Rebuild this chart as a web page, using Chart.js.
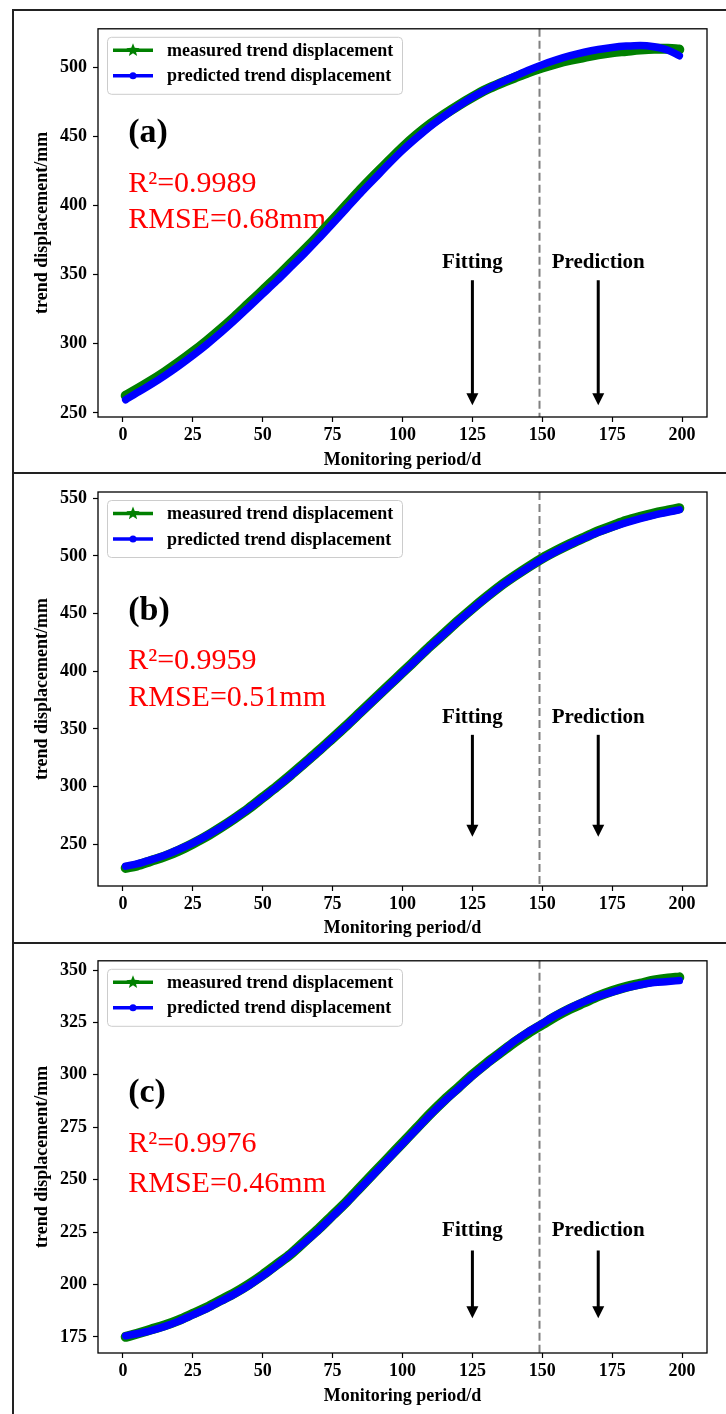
<!DOCTYPE html>
<html>
<head>
<meta charset="utf-8">
<script src="https://cdn.jsdelivr.net/npm/chart.js@4.4.1/dist/chart.umd.min.js"></script>
<style>
html,body{margin:0;padding:0;background:#fff;}
#wrap{position:relative;width:726px;height:1414px;overflow:hidden;background:#fff;}
canvas{position:absolute;left:0;}
.hl{position:absolute;left:12px;width:714px;height:2px;background:#222;}
.vl{position:absolute;left:12px;top:9px;width:2px;height:1405px;background:#222;}
</style>
</head>
<body>
<div id="wrap">
<canvas id="ca" width="726" height="460" style="top:12px"></canvas>
<canvas id="cb" width="726" height="468" style="top:474px"></canvas>
<canvas id="cc" width="726" height="470" style="top:944px"></canvas>
<div class="hl" style="top:9px"></div>
<div class="hl" style="top:472px"></div>
<div class="hl" style="top:942px"></div>
<div class="vl"></div>
</div>
<script>
// ---------- data ----------
const days = [1,5,10,15,20,25,30,35,40,45,50,55,60,65,70,75,80,85,90,95,100,105,110,115,120,125,130,135,140,145,150,155,160,165,170,175,180,185,190,195,199];

const measuredA = [262.5,267,273,279.5,286.5,294,302,310.5,319.5,329,338.5,348,358,368,378.5,389.5,400.5,411.5,422,432,442,451,459,466,472.5,478.5,484,488.5,492.5,496.5,500,503,505.5,507.5,509.5,511,512,513,513.5,513.5,513];
const predictedA = [259.5,264.5,270.5,277,284,291.5,299.5,308,317,326.5,336,345.5,355.5,365.5,376,387,398,409,419.5,430,440,449,457.5,465,472,478.5,484,489,493.5,498,502,505.5,508.5,511,513,514.5,515.5,516,515,512.5,508.5];

const measuredB = [229.5,231.5,235.5,239.5,244.5,250.5,257,264.5,272.5,281,290.5,300,310,320.5,331,342,353,364.5,376,387.5,399,410.5,422,433,444,454.5,464.5,474,482.5,490.5,498,504.5,510.5,516,521.5,526,530.5,534,537,539.5,541.5];
const predictedB = [231,233,236.5,240.5,245.5,251,257.5,264.5,272.5,281,290,299.5,309.5,320,330.5,341.5,352.5,364,375.5,387,398.5,410,421.5,432.5,443.5,454,464,473.5,482,490,497.5,504,510,515.5,520.5,525,529,532.5,535.5,538,540];

const measuredC = [175,176.5,178.5,180.5,183,186,189,192.5,196,200,204.5,209.5,214.5,220.5,226.5,233,239.5,246.5,253.5,260.5,267.5,274.5,281.5,288,294,300,305.5,310.5,315.5,320,324,328,331.5,334.5,337.5,340,342,343.5,345,346,346.5];
const predictedC = [175.5,176.5,178,180,182.5,185.5,188.5,192,195.5,199.5,204,209,214.5,220,226,232.5,239,246,253,260,267,274,281,287.5,293.5,299.5,305,310.5,316,320.5,324.5,328.5,332,335,337.5,339.5,341.5,343,344,344.5,345];

const seriesLabels = ['measured trend displacement','predicted trend displacement'];
const panelLabels = ['(a)','(b)','(c)'];
const r2Labels = ['R\u00B2=0.9989','R\u00B2=0.9959','R\u00B2=0.9976'];
const rmseLabels = ['RMSE=0.68mm','RMSE=0.51mm','RMSE=0.46mm'];
const splitDay = 149;
const fitDay = 125;
const predDay = 170;
const xTitle = 'Monitoring period/d';
const yTitle = 'trend displacement/mm';

// ---------- rendering ----------
const SERIF = "'Liberation Serif','Times New Roman',serif";
const GREEN = '#008000', BLUE = '#0000ff';

function star(ctx, cx, cy, R, r) {
  ctx.beginPath();
  for (let i = 0; i < 10; i++) {
    const rad = i % 2 === 0 ? R : r;
    const a = -Math.PI / 2 + i * Math.PI / 5;
    const px = cx + rad * Math.cos(a), py = cy + rad * Math.sin(a);
    if (i === 0) ctx.moveTo(px, py); else ctx.lineTo(px, py);
  }
  ctx.closePath();
  ctx.fill();
}

function arrow(ctx, x, y1, y2) {
  const head = 12, hw = 6;
  ctx.strokeStyle = '#000'; ctx.fillStyle = '#000'; ctx.lineWidth = 3;
  ctx.beginPath(); ctx.moveTo(x, y1); ctx.lineTo(x, y2 - head + 2); ctx.stroke();
  ctx.beginPath(); ctx.moveTo(x, y2); ctx.lineTo(x - hw, y2 - head); ctx.lineTo(x + hw, y2 - head); ctx.closePath(); ctx.fill();
}

function makeOverlay(ann) {
  return {
    id: 'overlay',
    beforeDatasetsDraw(chart) {
      const {ctx, chartArea: ca, scales: {x, y}} = chart;
      ctx.save();
      const xd = x.getPixelForValue(splitDay);
      ctx.strokeStyle = '#808080'; ctx.lineWidth = 2; ctx.setLineDash([8, 4]);
      ctx.beginPath(); ctx.moveTo(xd, ca.top); ctx.lineTo(xd, ca.bottom); ctx.stroke();
      ctx.setLineDash([]);
      ctx.fillStyle = '#000'; ctx.textBaseline = 'middle'; ctx.textAlign = 'left';
      ctx.font = 'bold 34px ' + SERIF;
      ctx.fillText(ann.label, x.getPixelForValue(ann.textX), y.getPixelForValue(ann.labelY));
      ctx.fillStyle = '#ff0000'; ctx.font = '30px ' + SERIF;
      ctx.fillText(ann.r2, x.getPixelForValue(ann.textX), y.getPixelForValue(ann.r2Y));
      ctx.fillText(ann.rmse, x.getPixelForValue(ann.textX), y.getPixelForValue(ann.rmseY));
      ctx.fillStyle = '#000'; ctx.textAlign = 'center'; ctx.font = 'bold 21px ' + SERIF;
      ctx.fillText('Fitting', x.getPixelForValue(fitDay), y.getPixelForValue(ann.tagY));
      ctx.fillText('Prediction', x.getPixelForValue(predDay), y.getPixelForValue(ann.tagY));
      arrow(ctx, x.getPixelForValue(fitDay), y.getPixelForValue(ann.arrowTop), y.getPixelForValue(ann.arrowTip));
      arrow(ctx, x.getPixelForValue(predDay), y.getPixelForValue(ann.arrowTop), y.getPixelForValue(ann.arrowTip));
      ctx.restore();
    },
    afterDatasetsDraw(chart) {
      const {ctx, chartArea: ca} = chart;
      ctx.save();
      const lx = ca.left + 9, ly = ca.top + 8, lw = 295, lh = 57;
      ctx.fillStyle = 'rgba(255,255,255,0.85)';
      ctx.strokeStyle = '#cccccc'; ctx.lineWidth = 1;
      ctx.beginPath(); ctx.roundRect(lx + 0.5, ly + 0.5, lw, lh, 4); ctx.fill(); ctx.stroke();
      const rows = [ly + 13.5, ly + 39];
      const cols = [GREEN, BLUE];
      for (let i = 0; i < 2; i++) {
        ctx.strokeStyle = cols[i]; ctx.fillStyle = cols[i]; ctx.lineWidth = 3.5;
        ctx.beginPath(); ctx.moveTo(lx + 6, rows[i]); ctx.lineTo(lx + 46, rows[i]); ctx.stroke();
        if (i === 0) star(ctx, lx + 26, rows[i], 7, 3);
        else { ctx.beginPath(); ctx.arc(lx + 26, rows[i], 3.5, 0, Math.PI * 2); ctx.fill(); }
        ctx.fillStyle = '#000'; ctx.font = 'bold 18px ' + SERIF;
        ctx.textAlign = 'left'; ctx.textBaseline = 'middle';
        ctx.fillText(seriesLabels[i], lx + 60, rows[i] + 1);
      }
      ctx.strokeStyle = '#000'; ctx.lineWidth = 1.3;
      ctx.strokeRect(ca.left, ca.top, ca.right - ca.left, ca.bottom - ca.top);
      ctx.restore();
    }
  };
}

function makePanel(id, measured, predicted, p) {
  const tickFont = {family: SERIF, size: 18, weight: 'bold'};
  const grid = {drawOnChartArea: false, drawTicks: true, tickLength: 5, tickColor: '#000', tickWidth: 1.2};
  new Chart(document.getElementById(id), {
    type: 'line',
    data: {
      datasets: [
        {label: seriesLabels[0], data: days.map((d, i) => ({x: d, y: measured[i]})),
         borderColor: GREEN, backgroundColor: GREEN, borderWidth: 10, pointRadius: 0,
         cubicInterpolationMode: 'monotone', borderCapStyle: 'round', borderJoinStyle: 'round', order: 2},
        {label: seriesLabels[1], data: days.map((d, i) => ({x: d, y: predicted[i]})),
         borderColor: BLUE, backgroundColor: BLUE, borderWidth: 7.5, pointRadius: 0,
         cubicInterpolationMode: 'monotone', borderCapStyle: 'round', borderJoinStyle: 'round', order: 1}
      ]
    },
    options: {
      responsive: false, animation: false, devicePixelRatio: 1,
      layout: {padding: {top: p.pt, right: 19, left: 0, bottom: 0}},
      plugins: {legend: {display: false}, tooltip: {enabled: false}},
      scales: {
        x: {
          type: 'linear', min: -8.9, max: 208.9,
          afterFit: s => { s.height = p.xh; },
          ticks: {stepSize: 25, includeBounds: false, autoSkip: false, maxRotation: 0, font: tickFont, color: '#000', padding: 3},
          grid: grid, border: {display: false},
          title: {display: true, text: xTitle, color: '#000', font: {family: SERIF, size: 18, weight: 'bold'}, padding: {top: 0, bottom: p.tb}}
        },
        y: {
          type: 'linear', min: p.ymin, max: p.ymax,
          afterFit: s => { s.width = 98; },
          ticks: {stepSize: p.step, includeBounds: false, font: tickFont, color: '#000', padding: 6},
          grid: grid, border: {display: false},
          title: {display: true, text: yTitle, color: '#000', font: {family: SERIF, size: 18, weight: 'bold'}, padding: {top: 32, bottom: 0}}
        }
      }
    },
    plugins: [makeOverlay(p.ann)]
  });
}

makePanel('ca', measuredA, predictedA, {pt: 10, xh: 55, tb: 1.2, ymin: 247, ymax: 528, step: 50,
  ann: {label: panelLabels[0], r2: r2Labels[0], rmse: rmseLabels[0], textX: 1.9, labelY: 452.4, r2Y: 415.4, rmseY: 389.2, tagY: 358.6, arrowTop: 346, arrowTip: 255.5}});
makePanel('cb', measuredB, predictedB, {pt: 18, xh: 56, tb: 3.2, ymin: 213.8, ymax: 555.5, step: 50,
  ann: {label: panelLabels[1], r2: r2Labels[1], rmse: rmseLabels[1], textX: 1.9, labelY: 452, r2Y: 408.6, rmseY: 376.8, tagY: 359.5, arrowTop: 344.9, arrowTip: 256.5}});
makePanel('cc', measuredC, predictedC, {pt: 15, xh: 61, tb: 6.5, ymin: 167.3, ymax: 354.4, step: 25,
  ann: {label: panelLabels[2], r2: r2Labels[2], rmse: rmseLabels[2], textX: 1.9, labelY: 291.4, r2Y: 267, rmseY: 248, tagY: 225.7, arrowTop: 216.2, arrowTip: 183.9}});
</script>
</body>
</html>
